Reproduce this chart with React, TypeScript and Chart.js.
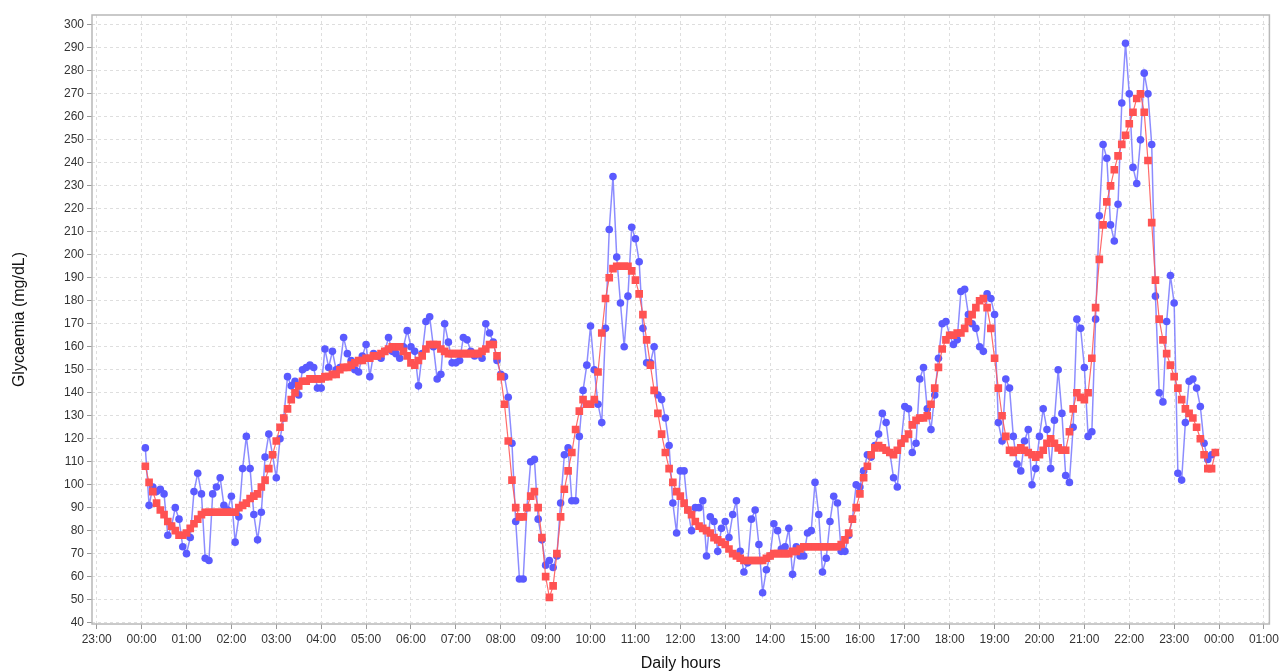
import React, { useEffect, useRef } from "react";
import { Chart, registerables } from "chart.js";

Chart.register(...registerables);

// Sampling: one reading every 5 minutes, starting 00:05
const FIRST_SAMPLE_MIN = 5;
const SAMPLE_STEP_MIN = 5;

// Raw CGM readings (blue circles), mg/dL, hour by hour
const glycaemiaRaw: number[] = [
  116, 91, 99, 97, 98, 96, 78, 82, 90, 85, 73, 70,
  77, 97, 105, 96, 68, 67, 96, 99, 103, 91, 89, 95,
  75, 86, 107, 121, 107, 87, 76, 88, 112, 122, 113, 103,
  120, 129, 147, 143, 145, 139, 150, 151, 152, 151, 142, 142,
  159, 151, 158, 150, 151, 164, 157, 154, 150, 149, 156, 161,
  147, 157, 156, 155, 158, 164, 158, 157, 155, 160, 167, 160,
  158, 143, 157, 171, 173, 160, 146, 148, 170, 162, 153, 153,
  154, 164, 163, 158, 156, 157, 155, 170, 166, 162, 154, 148,
  147, 138, 118, 84, 59, 59, 90, 110, 111, 85, 76, 65,
  67, 64, 69, 92, 113, 116, 93, 93, 121, 141, 152, 169,
  150, 135, 127, 168, 211, 234, 199, 179, 160, 182, 212, 207,
  197, 168, 153, 153, 160, 139, 137, 129, 117, 92, 79, 106,
  106, 89, 80, 90, 90, 93, 69, 86, 84, 71, 81, 84,
  77, 87, 93, 71, 62, 66, 85, 89, 74, 53, 63, 69,
  83, 80, 72, 73, 81, 61, 73, 69, 69, 79, 80, 101,
  87, 62, 68, 84, 95, 92, 71, 71, 78, 85, 100, 99,
  106, 113, 112, 117, 122, 131, 127, 114, 103, 99, 118, 134,
  133, 114, 118, 146, 151, 133, 124, 139, 155, 170, 171, 165,
  161, 163, 184, 185, 174, 170, 168, 160, 158, 183, 181, 174,
  127, 119, 146, 142, 121, 109, 106, 119, 124, 100, 107, 121,
  133, 124, 107, 128, 150, 131, 104, 101, 125, 172, 168, 151,
  121, 123, 172, 217, 248, 242, 213, 206, 222, 266, 292, 270,
  238, 231, 250, 279, 270, 248, 182, 140, 136, 171, 191, 179,
  105, 102, 127, 145, 146, 142, 134, 118, 111, 113, 114,
];

// Smoothed curve (red squares), mg/dL
const glycaemiaSmooth: number[] = [
  108, 101, 97, 92, 89, 87, 84, 82, 80, 78, 78, 79,
  81, 83, 85, 87, 88, 88, 88, 88, 88, 88, 88, 88,
  88, 90, 91, 92, 94, 95, 96, 99, 102, 107, 113, 119,
  125, 129, 133, 137, 140, 143, 145, 145, 146, 146, 146, 146,
  147, 147, 148, 148, 150, 151, 151, 152, 153, 154, 154, 155,
  155, 156, 156, 157, 158, 159, 160, 160, 160, 158, 156, 153,
  152, 154, 156, 159, 161, 161, 161, 159, 158, 157, 157, 157,
  157, 157, 157, 157, 157, 157, 158, 159, 161, 161, 156, 147,
  135, 119, 102, 90, 86, 86, 90, 95, 97, 90, 77, 60,
  51, 56, 70, 86, 98, 106, 114, 124, 132, 137, 135, 135,
  137, 149, 166, 181, 190, 194, 195, 195, 195, 195, 193, 189,
  183, 174, 163, 152, 141, 131, 122, 114, 107, 101, 97, 95,
  92, 89, 87, 84, 82, 81, 80, 79, 77, 76, 75, 74,
  72, 70, 69, 68, 67, 67, 67, 67, 67, 67, 68, 69,
  70, 70, 70, 70, 70, 71, 71, 72, 73, 73, 73, 73,
  73, 73, 73, 73, 73, 73, 74, 76, 79, 85, 90, 96,
  103, 108, 113, 116, 117, 116, 115, 114, 113, 115, 118, 120,
  122, 126, 128, 129, 129, 130, 135, 142, 151, 159, 163, 165,
  165, 166, 166, 168, 171, 174, 177, 180, 181, 177, 168, 155,
  142, 130, 121, 115, 114, 115, 116, 115, 114, 113, 112, 113,
  115, 118, 120, 118, 116, 115, 115, 123, 133, 140, 138, 137,
  140, 155, 177, 198, 213, 223, 230, 237, 243, 248, 252, 257,
  262, 268, 270, 262, 241, 214, 189, 172, 163, 157, 152, 147,
  142, 137, 133, 131, 129, 125, 120, 113, 107, 107, 114,
];

// Axis settings (x in minutes from midnight)
const X_MIN = -66.3;
const X_MAX = 1507.3;
const X_TICK_STEP = 60;
const Y_MIN = 39.4;
const Y_MAX = 304.3;
const Y_TICK_STEP = 10;

const X_TITLE = "Daily hours";
const Y_TITLE = "Glycaemia (mg/dL)";

const FONT = "'Liberation Sans', Arial, Helvetica, sans-serif";

function formatHour(v: number): string {
  const h = ((Math.round(v / 60) % 24) + 24) % 24;
  return String(h).padStart(2, "0") + ":00";
}

function toPoints(values: number[]) {
  return values.map((y, i) => ({ x: FIRST_SAMPLE_MIN + i * SAMPLE_STEP_MIN, y }));
}

const framePlugin = {
  id: "frame",
  beforeDatasetsDraw(chart: any) {
    const { ctx, chartArea: a } = chart;
    ctx.save();
    ctx.strokeStyle = "#b8b8b8";
    ctx.lineWidth = 1.5;
    ctx.strokeRect(a.left, a.top, a.right - a.left, a.bottom - a.top);
    ctx.restore();
  },
};

export default function App() {
  const canvasRef = useRef<HTMLCanvasElement | null>(null);

  useEffect(() => {
    if (!canvasRef.current) return;
    const chart = new Chart(canvasRef.current, {
      type: "line",
      data: {
        datasets: [
          {
            label: "Raw",
            data: toPoints(glycaemiaRaw),
            borderColor: "rgba(120,120,255,0.85)",
            borderWidth: 1.5,
            backgroundColor: "#5a5aff",
            pointBackgroundColor: "#5a5aff",
            pointBorderColor: "#5a5aff",
            pointBorderWidth: 0,
            pointRadius: 3.8,
            pointStyle: "circle",
            tension: 0,
            order: 1,
          },
          {
            label: "Smoothed",
            data: toPoints(glycaemiaSmooth),
            borderColor: "rgba(255,90,90,0.9)",
            borderWidth: 1.2,
            backgroundColor: "#ff5252",
            pointBackgroundColor: "#ff5252",
            pointBorderColor: "#ff5252",
            pointBorderWidth: 0,
            pointRadius: 5.4,
            pointStyle: "rect",
            tension: 0,
            order: 0,
          },
        ],
      },
      options: {
        animation: false,
        responsive: true,
        maintainAspectRatio: false,
        layout: { padding: { left: 0, right: 9.5, top: 15, bottom: 0 } },
        plugins: {
          legend: { display: false },
          tooltip: { enabled: false },
        },
        scales: {
          x: {
            type: "linear",
            min: X_MIN,
            max: X_MAX,
            afterFit: (scale: any) => {
              scale.height = 48;
            },
            ticks: {
              stepSize: X_TICK_STEP,
              includeBounds: false,
              autoSkip: false,
              maxRotation: 0,
              minRotation: 0,
              padding: 3,
              color: "#333",
              font: { family: FONT, size: 12 },
              callback: (v: any) => formatHour(Number(v)),
            },
            grid: {
              color: "#dedede",
              lineWidth: 1,
              tickLength: 5,
              tickColor: "#999",
              tickBorderDash: [],
            },
            border: { display: false, dash: [3, 3] },
            title: {
              display: true,
              text: X_TITLE,
              color: "#111",
              font: { family: FONT, size: 16, lineHeight: 1 },
              padding: { top: 0, bottom: 0 },
            },
          },
          y: {
            type: "linear",
            min: Y_MIN,
            max: Y_MAX,
            afterFit: (scale: any) => {
              scale.width = 92;
            },
            ticks: {
              stepSize: Y_TICK_STEP,
              includeBounds: false,
              autoSkip: false,
              padding: 3,
              color: "#333",
              font: { family: FONT, size: 12 },
            },
            grid: {
              color: "#dedede",
              lineWidth: 1,
              tickLength: 5,
              tickColor: "#999",
              tickBorderDash: [],
            },
            border: { display: false, dash: [3, 3] },
            title: {
              display: true,
              text: Y_TITLE,
              color: "#111",
              font: { family: FONT, size: 16, lineHeight: 1 },
              padding: { top: 12, bottom: 0 },
            },
          },
        },
      },
      plugins: [framePlugin],
    });
    return () => chart.destroy();
  }, []);

  return (
    <div
      style={{
        position: "fixed",
        left: 0,
        top: 0,
        width: 1282,
        height: 672,
        background: "#fff",
      }}
    >
      <canvas ref={canvasRef} />
    </div>
  );
}
